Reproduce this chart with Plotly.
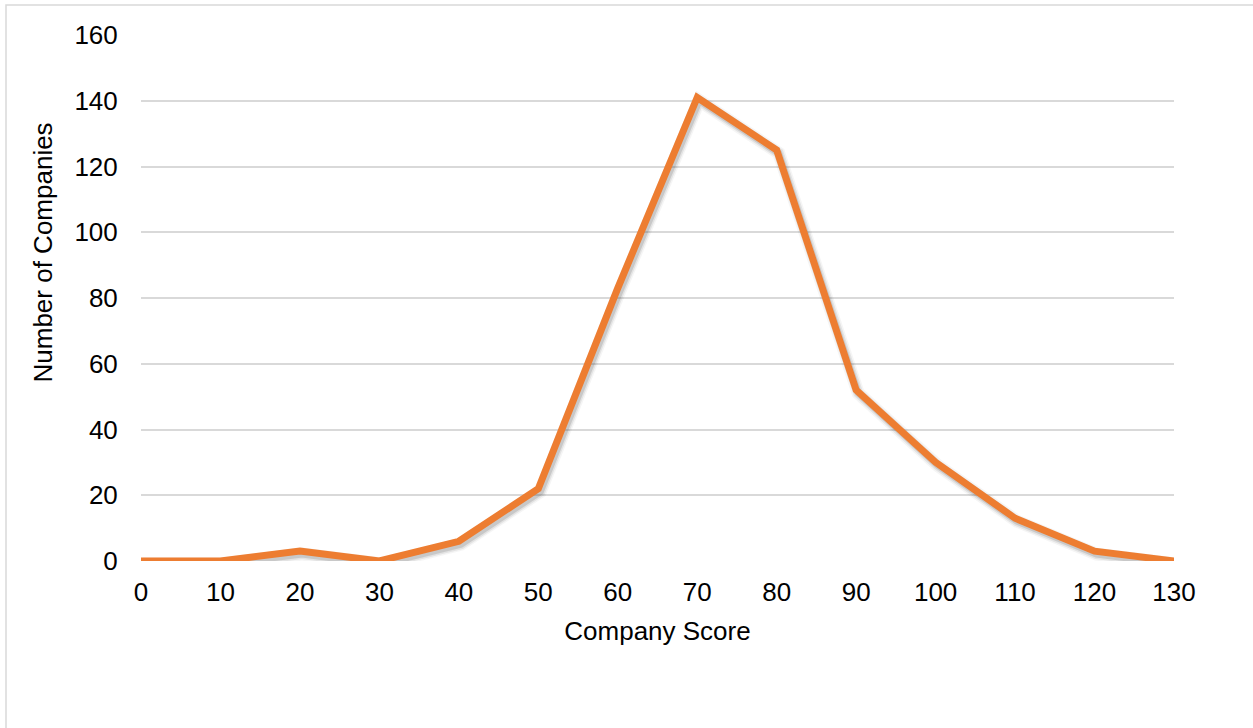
import plotly.graph_objects as go

# Distribution of company scores
scores = [0, 10, 20, 30, 40, 50, 60, 70, 80, 90, 100, 110, 120, 130]
companies = [0, 0, 3, 0, 6, 22, 83, 141, 125, 52, 30, 13, 3, 0]
y_ticks = [0, 20, 40, 60, 80, 100, 120, 140, 160]

LINE_COLOR = "#ED7D31"
GRID_COLOR = "#D9D9D9"
FONT = "Liberation Sans, Arial, sans-serif"

W, H = 1253, 728
L, R, T, B = 141, 79, 35, 167
plot_w = W - L - R
plot_h = H - T - B

X_RANGE = [0, 130]
Y_RANGE = [0, 160]

# soft drop shadow: the same series on overlay axes nudged right/down
dx = 2.0 * (X_RANGE[1] - X_RANGE[0]) / plot_w
dy = 3.0 * (Y_RANGE[1] - Y_RANGE[0]) / plot_h

fig = go.Figure()

# base layer: invisible series that anchors the main axes and carries hover
fig.add_trace(go.Scatter(
    x=scores, y=companies, mode="lines",
    line=dict(color="rgba(0,0,0,0)", width=7),
    showlegend=False, name="Companies",
))

for width, alpha in [(13, 0.05), (10, 0.09), (7, 0.16)]:
    fig.add_trace(go.Scatter(
        x=scores, y=companies, mode="lines",
        line=dict(color=f"rgba(60,60,60,{alpha})", width=width),
        xaxis="x2", yaxis="y2", hoverinfo="skip", showlegend=False,
        cliponaxis=False,
    ))

# main series on its own overlay so it sits above the shadow
fig.add_trace(go.Scatter(
    x=scores, y=companies, mode="lines",
    line=dict(color=LINE_COLOR, width=7),
    xaxis="x3", yaxis="y3", hoverinfo="skip",
    showlegend=False, cliponaxis=False,
))

axis_font = dict(family=FONT, size=26, color="#000000")

fig.update_layout(
    width=W, height=H,
    margin=dict(l=L, r=R, t=T, b=B, pad=0),
    paper_bgcolor="white", plot_bgcolor="white",
    font=dict(family=FONT, color="#000000"),
    xaxis=dict(
        range=X_RANGE, tickmode="array", tickvals=scores,
        ticktext=[str(s) for s in scores],
        showgrid=False, zeroline=False, showline=False,
        ticks="outside", ticklen=8, tickcolor="rgba(0,0,0,0)",
        tickfont=axis_font,
        title=dict(text="Company Score", font=axis_font, standoff=15),
    ),
    yaxis=dict(
        range=Y_RANGE, tickmode="array", tickvals=y_ticks,
        ticktext=[str(v) for v in y_ticks],
        showgrid=True, gridcolor=GRID_COLOR, gridwidth=1.5,
        zeroline=False, showline=False,
        ticks="outside", ticklen=17, tickcolor="rgba(0,0,0,0)",
        tickfont=axis_font,
    ),
    xaxis2=dict(range=[X_RANGE[0] - dx, X_RANGE[1] - dx], overlaying="x",
                visible=False, fixedrange=True),
    yaxis2=dict(range=[Y_RANGE[0] + dy, Y_RANGE[1] + dy], overlaying="y",
                visible=False, fixedrange=True),
    xaxis3=dict(range=X_RANGE, overlaying="x", visible=False, fixedrange=True),
    yaxis3=dict(range=Y_RANGE, overlaying="y", visible=False, fixedrange=True),
)

# vertical axis title, centred on the chart area rather than the plot area
fig.add_annotation(
    text="Number of Companies", textangle=-90, showarrow=False,
    xref="paper", yref="paper",
    x=(43 - L) / plot_w, y=(T + plot_h - 252.5) / plot_h,
    xanchor="center", yanchor="middle",
    font=axis_font,
)

# chart-area border
fig.add_shape(
    type="rect", xref="paper", yref="paper",
    x0=(6 - L) / plot_w, x1=(W + 20 - L) / plot_w,
    y0=-(H + 20 - T - plot_h) / plot_h, y1=(T + plot_h - 5) / plot_h,
    line=dict(color=GRID_COLOR, width=1.5), fillcolor="rgba(0,0,0,0)",
    layer="below",
)

fig.write_html("out.html")
